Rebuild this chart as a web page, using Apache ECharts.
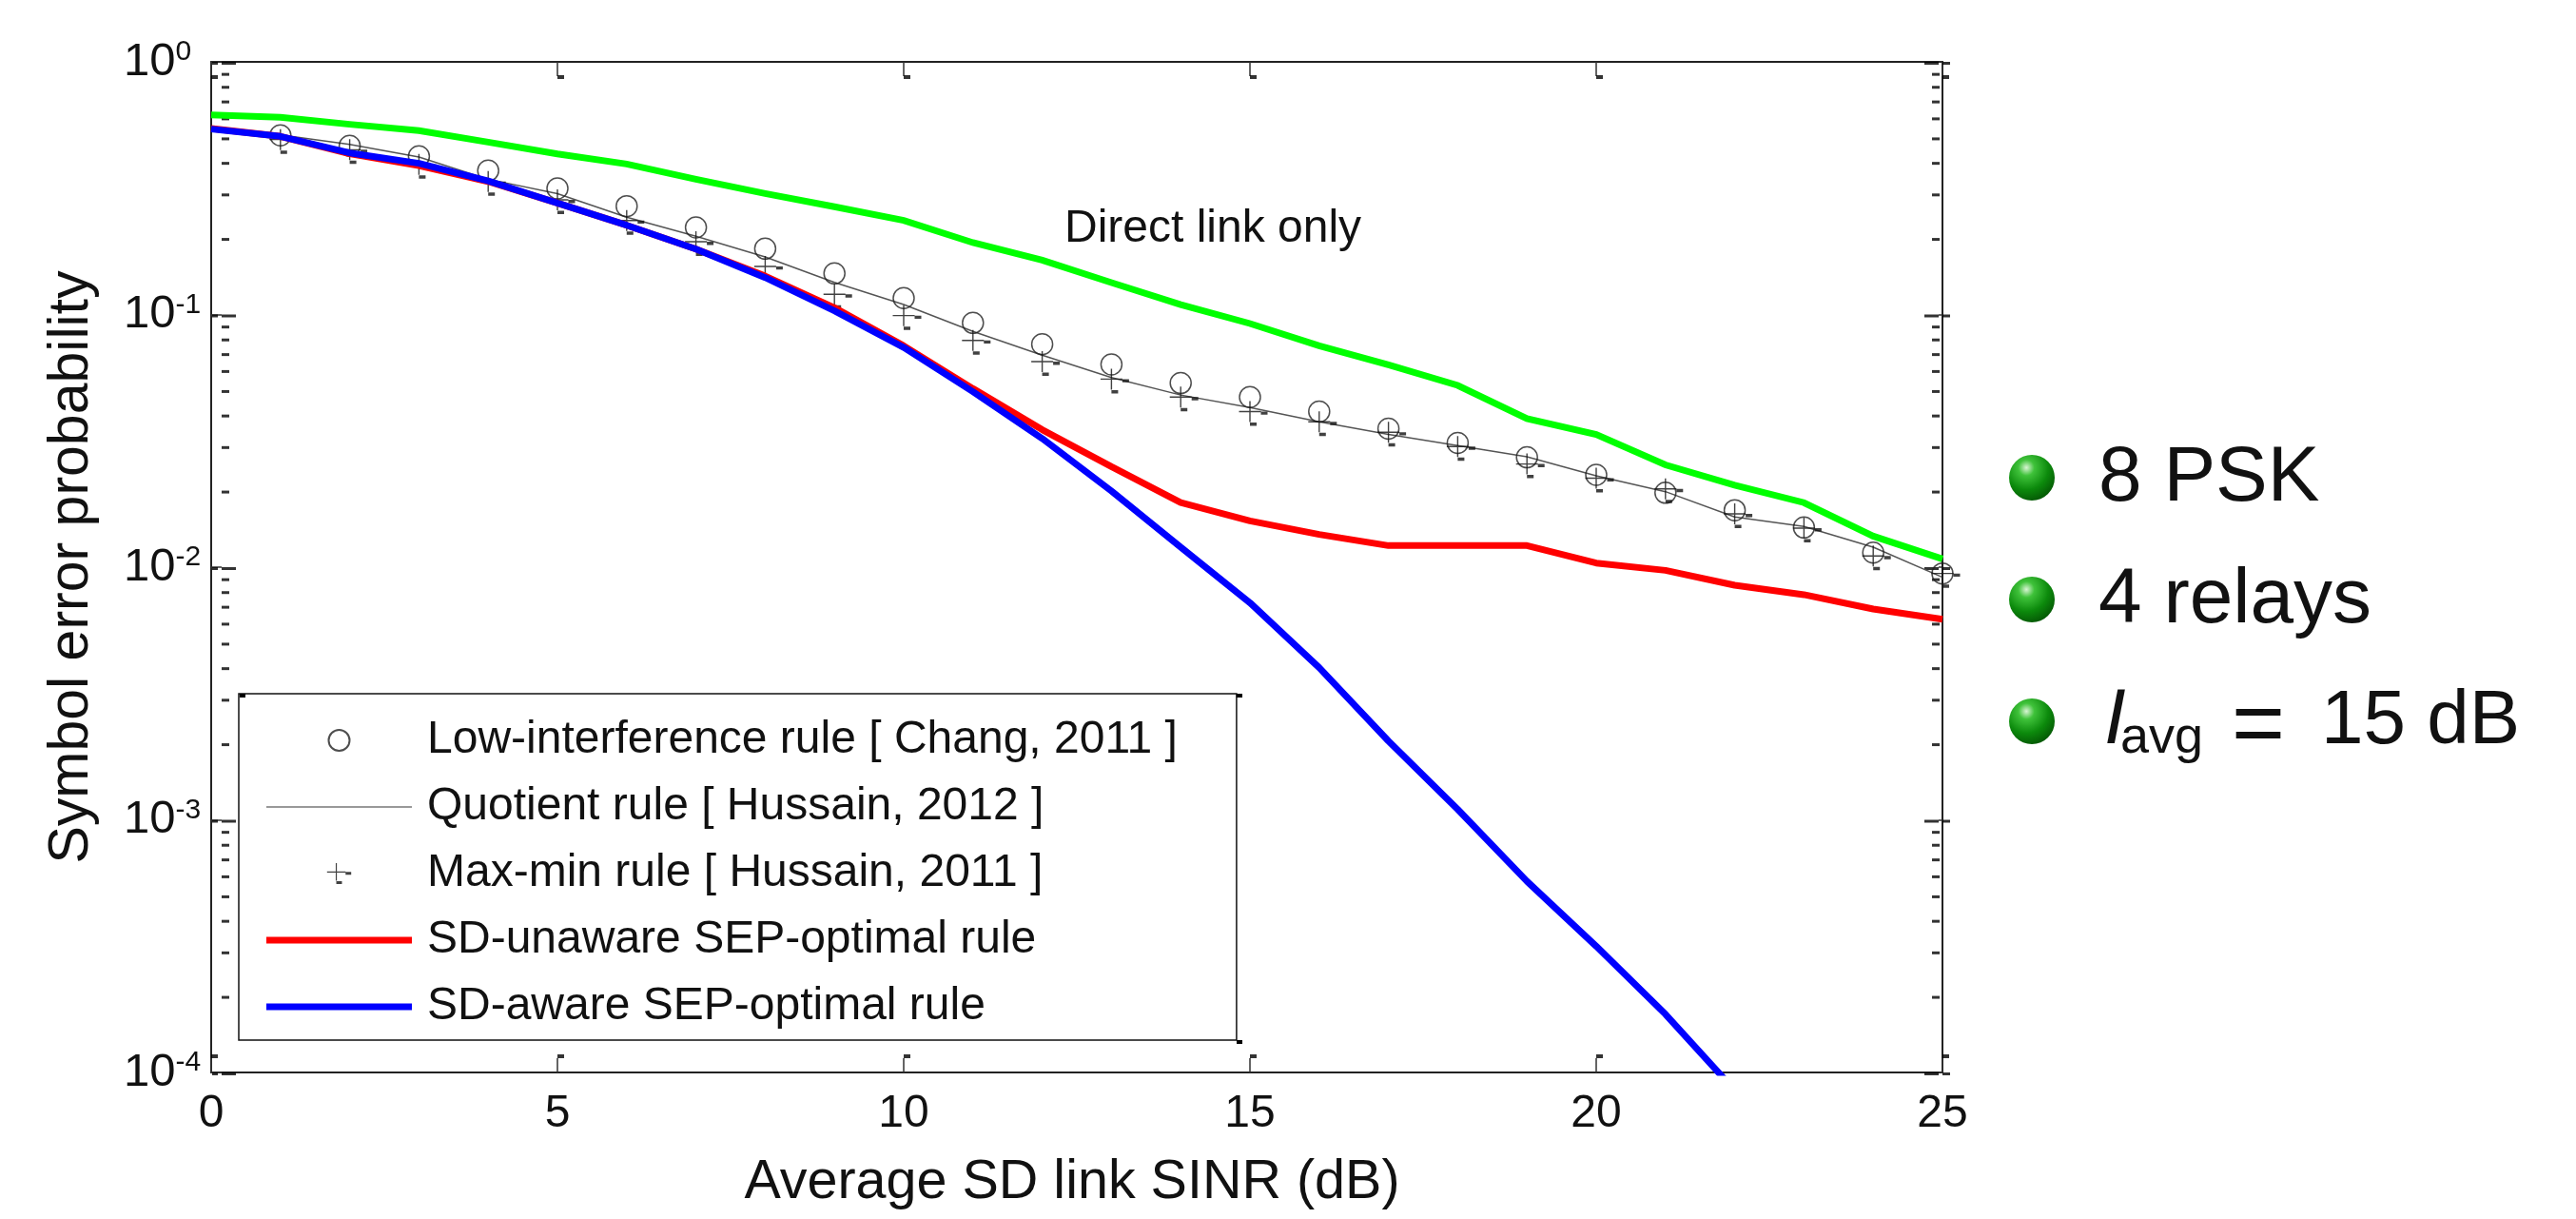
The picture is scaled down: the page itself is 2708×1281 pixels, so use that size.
<!DOCTYPE html>
<html><head><meta charset="utf-8">
<style>html,body{margin:0;padding:0;background:#fff}#c{width:2708px;height:1281px}</style>
<script src="https://cdn.jsdelivr.net/npm/echarts@6/dist/echarts.min.js"></script>
</head><body><div id="c"></div>
<script>
const snr = [0,1,2,3,4,5,6,7,8,9,10,11,12,13,14,15,16,17,18,19,20,21,22,23,24,25];
const direct = [0.617,0.603,0.566,0.534,0.481,0.432,0.394,0.343,0.301,0.267,0.2356,0.1925,0.1642,0.1337,0.1095,0.0921,0.0752,0.0632,0.0524,0.0387,0.0335,0.0254,0.0211,0.018,0.01327,0.01078];
const unaware = [0.545,0.507,0.4325,0.3886,0.336,0.276,0.2256,0.1816,0.142,0.1064,0.0752,0.0509,0.035,0.025,0.018,0.01525,0.01347,0.01217,0.01217,0.01217,0.01038,0.00971,0.00848,0.00778,0.00683,0.00622];
const aware = [0.542,0.507,0.436,0.3966,0.338,0.276,0.2256,0.1816,0.14,0.1034,0.0741,0.0495,0.0323,0.02,0.012,0.00723,0.004,0.00205,0.0011,0.000571,0.000316,0.00017,0.000085];
const quotient = [0.553,0.514,0.4716,0.42,0.343,0.301,0.2426,0.204,0.169,0.134,0.1095,0.0857,0.069,0.0563,0.048,0.0428,0.0376,0.0335,0.0303,0.02735,0.023,0.0199,0.0158,0.01448,0.012,0.00912];
const lowInterfX = [1,2,3,4,5,6,7,8,9,10,11,12,13,14,15,16,17,18,19,20,21,22,23,24,25];
const lowInterf = [0.5115,0.465,0.4226,0.371,0.3155,0.2684,0.2211,0.1822,0.1454,0.1161,0.0926,0.0763,0.0634,0.0535,0.0471,0.0413,0.0353,0.031,0.0272,0.0232,0.0197,0.0168,0.01435,0.01142,0.00944];
const maxMin = [0.4925,0.449,0.393,0.336,0.2844,0.2356,0.1941,0.155,0.1202,0.099,0.079,0.0651,0.0555,0.0471,0.0413,0.0376,0.0342,0.03,0.0256,0.0225,0.0204,0.01625,0.01427,0.01107,0.00944];
const xTicks = [0,5,10,15,20,25];
const yMajor = [1,0.1,0.01,0.001,0.0001];
const yMinor = [0.9,0.8,0.7,0.6,0.5,0.4,0.3,0.2,0.09,0.08,0.07,0.06,0.05,0.04,0.03,0.02,0.009,0.008,0.007,0.006,0.005,0.004,0.003,0.002,0.0009,0.0008,0.0007,0.0006,0.0005,0.0004,0.0003,0.0002];
const names = ['Low-interference rule [ Chang, 2011 ]','Quotient rule [ Hussain, 2012 ]','Max-min rule [ Hussain, 2011 ]','SD-unaware SEP-optimal rule','SD-aware SEP-optimal rule'];
const bullets = ['8 PSK','4 relays'];

const FONT = '"Liberation Sans", Arial, sans-serif';
const INK = '#111';
const pair = (xs, ys) => ys.map((v, i) => [xs[i], v]);
const plusPath = 'path://M-11.5 -0.7H11.5V0.7H-11.5Z M-0.7 -11H0.7V11H-0.7Z M11.5 0H18.5V3.4H11.5Z M0 11.5H7V15H0Z';
const thickIcon = 'path://M0 0M0 7.5H153V14.5H0ZM153 22';
const thinIcon = 'path://M0 0M0 10.3H153V11.7H0ZM153 22';

function tickSeries(data, symbol, size, offset) {
  return {type:'scatter', silent:true, clip:false, z:1, symbol, symbolSize:size, symbolOffset:offset,
    itemStyle:{color:'#000'}, data, tooltip:{show:false}, emphasis:{disabled:true}, xAxisIndex:0, yAxisIndex:0};
}
const ball = (cy) => ({type:'circle', shape:{cx:2136, cy, r:24}, z:5,
  style:{fill:{type:'radial', x:0.38, y:0.28, r:0.8, colorStops:[
    {offset:0,color:'#d9f5d4'},{offset:0.22,color:'#3fc23a'},{offset:0.6,color:'#0c8a0c'},{offset:1,color:'#034f03'}]}}});
const txt = (x, y, text, size, extra) => ({type:'text', x, y, z:5,
  style:Object.assign({text, font:size+'px '+FONT, fill:'#111'}, extra||{})});
const dot = (x, y) => ({type:'rect', shape:{x, y, width:6, height:4}, z:5, style:{fill:'#000'}});

const chart = echarts.init(document.getElementById('c'), null, {renderer:'canvas'});
chart.setOption({
  animation:false,
  backgroundColor:'#fff',
  textStyle:{fontFamily:FONT},
  grid:{left:222, right:666, top:65, bottom:154, show:false},
  xAxis:[
    {type:'value', min:0, max:25, interval:5, position:'bottom',
     name:'Average SD link SINR (dB)', nameLocation:'middle', nameGap:87,
     nameTextStyle:{fontSize:57.5, color:INK, fontFamily:FONT, padding:[0,10,0,0]},
     axisLine:{onZero:false, lineStyle:{color:'#222', width:2}},
     axisTick:{inside:true, length:15, lineStyle:{color:'#333', width:1.5}},
     axisLabel:{fontSize:48, color:INK, margin:20, fontFamily:FONT},
     splitLine:{show:false}},
    {type:'value', min:0, max:25, interval:5, position:'top',
     axisLine:{onZero:false, lineStyle:{color:'#222', width:2}},
     axisTick:{inside:true, length:15, lineStyle:{color:'#333', width:1.5}},
     axisLabel:{show:false}, splitLine:{show:false}}
  ],
  yAxis:[
    {type:'log', logBase:10, min:0.0001, max:1, position:'left',
     name:'Symbol error probability', nameLocation:'middle', nameGap:117,
     nameTextStyle:{fontSize:59, color:INK, fontFamily:FONT},
     axisLine:{onZero:false, lineStyle:{color:'#222', width:2}},
     axisTick:{inside:true, length:11, lineStyle:{color:'#333', width:1.5}},
     axisLabel:{margin:92, align:'left', formatter:v => '{b|10}{s|' + Math.round(Math.log10(v)) + '}',
       rich:{b:{fontSize:49, color:INK, fontFamily:FONT, lineHeight:50},
             s:{fontSize:30, color:INK, fontFamily:FONT, verticalAlign:'top', lineHeight:30}}},
     splitLine:{show:false}},
    {type:'log', logBase:10, min:0.0001, max:1, position:'right',
     axisLine:{onZero:false, lineStyle:{color:'#222', width:2}},
     axisTick:{inside:true, length:4, lineStyle:{color:'#333', width:1.5}},
     axisLabel:{show:false}, splitLine:{show:false}}
  ],
  legend:{
    show:true, orient:'vertical', left:251, top:729,
    data:[{name:names[0]},{name:names[1],icon:thinIcon},{name:names[2]},{name:names[3],icon:thickIcon},{name:names[4],icon:thickIcon}],
    backgroundColor:'#fff', borderColor:'#111', borderWidth:1.5,
    padding:[25,62,11,29], itemWidth:153, itemHeight:22, itemGap:22, align:'left',
    selectedMode:false,
    textStyle:{fontSize:48, color:INK, fontFamily:FONT, padding:[0,0,0,11]}
  },
  series:[
    {name:'Direct link only', type:'line', data:pair(snr,direct), showSymbol:false, symbol:'none', z:3, lineStyle:{color:'#00ff00', width:7, join:'miter'}},
    {name:names[0], type:'scatter', data:pair(lowInterfX,lowInterf), symbol:'circle', symbolSize:22, z:4, clip:false,
     itemStyle:{color:'rgba(0,0,0,0)', borderColor:'#222', borderWidth:1.5}},
    {name:names[1], type:'line', data:pair(snr,quotient), showSymbol:false, symbol:'none', z:4, lineStyle:{color:'#555', width:1.5}, itemStyle:{color:'#777'}},
    {name:names[2], type:'scatter', data:pair(lowInterfX,maxMin), symbol:plusPath, symbolSize:[30,26], symbolOffset:[3.5,2], z:4, clip:false,
     itemStyle:{color:'#111'}},
    {name:names[3], type:'line', data:pair(snr,unaware), showSymbol:false, symbol:'none', z:5, lineStyle:{color:'#ff0000', width:7}, itemStyle:{color:'#ff0000'}},
    {name:names[4], type:'line', data:pair(snr,aware), showSymbol:false, symbol:'none', z:6, lineStyle:{color:'#0000ff', width:7}, itemStyle:{color:'#0000ff'}},
    tickSeries(xTicks.map(v=>[v,1]), 'rect', [7,4], [3.5,16]),
    tickSeries(xTicks.map(v=>[v,0.0001]), 'rect', [7,4], [3.5,-17]),
    tickSeries(yMinor.map(v=>[0,v]), 'rect', [8,3], [15,1]),
    tickSeries(yMajor.map(v=>[0,v]), 'path://M1 0H7V3H1Z M11 0H26V3H11Z', [25,3], [13.5,1.5]),
    tickSeries(yMinor.map(v=>[25,v]), 'rect', [8,3], [-7,1]),
    tickSeries(yMajor.map(v=>[25,v]), 'path://M-19 0H-4V3H-19Z M0 0H8V3H0Z', [27,3], [-5.5,1.5])
  ],
  graphic:[
    txt(1119, 217, 'Direct link only', 48),
    dot(252,729), dot(1300,729), dot(1300,1093),
    ball(502), ball(630), ball(758),
    txt(2206, 462, bullets[0], 82),
    txt(2206, 590, bullets[1], 82),
    txt(2212, 717, 'I', 82, {font:'italic 82px '+FONT}),
    txt(2229, 749, 'avg', 54),
    txt(2346, 718, '=', 96),
    txt(2440, 719, '15 dB', 80)
  ]
});
</script></body></html>
